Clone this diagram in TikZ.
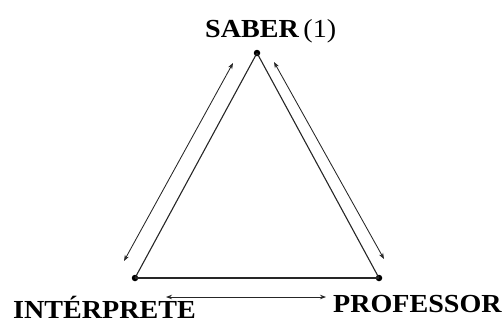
\documentclass[tikz,border=0pt]{standalone}
\usepackage{fontspec}
\setmainfont[FakeStretch=1.08]{Liberation Serif}
\usetikzlibrary{arrows.meta}
\begin{document}
\begin{tikzpicture}[x=1pt,y=-1pt,
  vdot/.style={circle,fill=black,inner sep=0pt,minimum size=6.5pt},
  side/.style={line width=1.1pt,black!85},
  rel/.style={line width=0.85pt,black!85,{Stealth[length=6pt,width=4.5pt]}-{Stealth[length=6pt,width=4.5pt]}},
  lbl/.style={inner sep=0pt,anchor=base west,font=\fontsize{26}{28}\selectfont}]
\useasboundingbox (0,0) rectangle (503,325);
\node[vdot] (top) at (257,53) {};
\node[vdot] (left) at (135,278) {};
\node[vdot] (right) at (379,278) {};
\draw[side] (top.center) -- (left.center);
\draw[side] (left.center) -- (right.center);
\draw[side] (right.center) -- (top.center);
\coordinate (a1) at (233,63);
\coordinate (a2) at (124,261);
\coordinate (b1) at (274,62);
\coordinate (b2) at (384,259);
\coordinate (c1) at (166,297);
\coordinate (c2) at (326,297);
\draw[rel] (a1) -- (a2);
\draw[rel] (b1) -- (b2);
\draw[rel] (c1) -- (c2);
\node[lbl] (saber) at (205,37) {\textbf{SABER}\,(1)};
\node[lbl] (prof) at (333,312) {\textbf{PROFESSOR}};
\node[lbl] (interp) at (13,318) {\textbf{INTÉRPRETE}};
\end{tikzpicture}
\end{document}
